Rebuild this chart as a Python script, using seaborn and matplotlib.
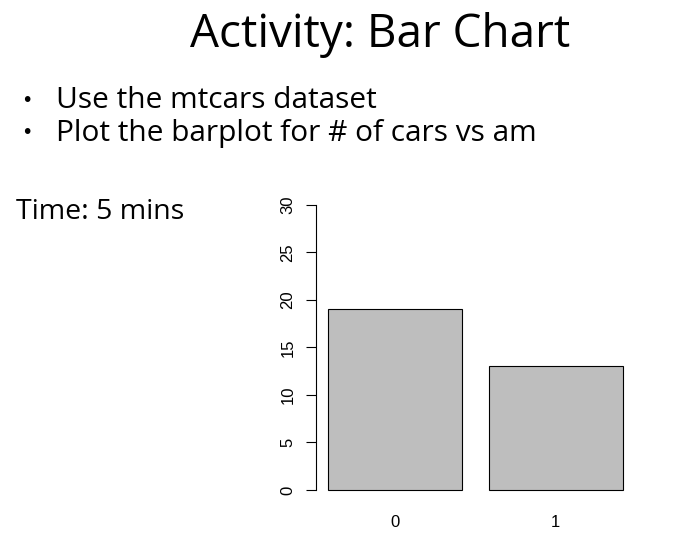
import matplotlib
matplotlib.use("Agg")
import matplotlib.pyplot as plt
import seaborn as sns
import pandas as pd

# data: number of cars per transmission type (am) in mtcars
am_levels = ["0", "1"]
car_counts = [19, 13]
y_ticks = [0, 5, 10, 15, 20, 25, 30]

title = "Activity: Bar Chart"
bullets = ["Use the mtcars dataset", "Plot the barplot for # of cars vs am"]
time_note = "Time: 5 mins"

W, H = 691, 542
fig = plt.figure(figsize=(W / 100, H / 100), dpi=100)
fig.patch.set_facecolor("white")

# slide text
fig.text(380 / W, 1 - 35 / H, title, ha="center", va="center",
         fontsize=33, family="Open Sans", color="black")
for i, line in enumerate(bullets):
    y = 1 - (101 + i * 32) / H
    fig.text(27 / W, y, "\u2022", ha="center", va="center", fontsize=14, family="DejaVu Sans")
    fig.text(56 / W, y, line, ha="left", va="center", fontsize=21.5, family="Open Sans")
fig.text(16 / W, 1 - 212 / H, time_note, ha="left", va="center",
         fontsize=20.5, family="Open Sans")

# plot area (R base barplot look)
left, right = 316.2 / W, 634.6 / W
bottom, top = 1 - 501.4 / H, 1 - 193.6 / H
ax = fig.add_axes([left, bottom, right - left, top - bottom])

df = pd.DataFrame({"am": am_levels, "count": car_counts})
sns.barplot(data=df, x="am", y="count", ax=ax, color="#bebebe",
            edgecolor="black", linewidth=0.8, width=1 / 1.2, saturation=1)

ax.set_xlim(-0.49, 1.49)
ax.set_ylim(-1.2, 31.2)
ax.set_yticks(y_ticks)
ax.set_yticklabels([str(t) for t in y_ticks], rotation=90, va="center",
                   family="Liberation Sans", fontsize=12)
ax.set_xticks(range(len(am_levels)))
ax.set_xticklabels(am_levels, family="Liberation Sans", fontsize=12)
ax.tick_params(axis="x", length=0, pad=10)
ax.tick_params(axis="y", length=7, width=0.8, pad=8)
ax.set_xlabel("")
ax.set_ylabel("")
for s in ["top", "right", "bottom"]:
    ax.spines[s].set_visible(False)
ax.spines["left"].set_bounds(0, 30)
ax.spines["left"].set_linewidth(0.8)
ax.patch.set_alpha(0)

fig.savefig("out.png", dpi=100)
